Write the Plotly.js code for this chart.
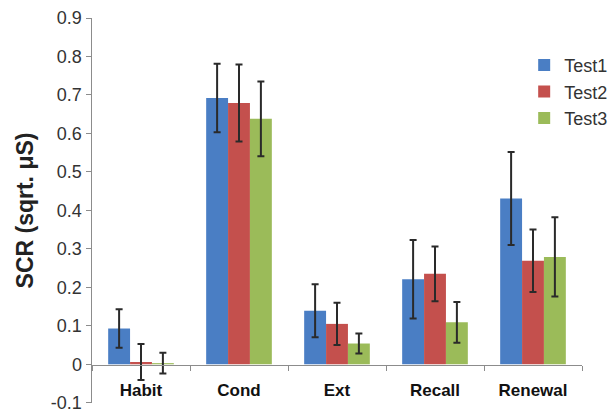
<!DOCTYPE html>
<html>
<head>
<meta charset="utf-8">
<script src="https://cdn.plot.ly/plotly-3.0.1.min.js"></script>
<style>html,body{margin:0;padding:0;background:#fff;}#chart{width:608px;height:414px;}</style>
</head>
<body>
<div id="chart"></div>
<script>
const categories = ["Habit", "Cond", "Ext", "Recall", "Renewal"];
const test1 = [0.093, 0.692, 0.139, 0.221, 0.431];
const test1Err = [0.050, 0.089, 0.069, 0.102, 0.121];
const test2 = [0.006, 0.679, 0.105, 0.235, 0.269];
const test2Err = [0.047, 0.100, 0.055, 0.071, 0.081];
const test3 = [0.003, 0.638, 0.054, 0.109, 0.279];
const test3Err = [0.027, 0.097, 0.026, 0.053, 0.103];
const seriesNames = ["Test1", "Test2", "Test3"];
const yTickVals = [-0.1, 0, 0.1, 0.2, 0.3, 0.4, 0.5, 0.6, 0.7, 0.8, 0.9];
const yTickText = ["-0.1", "0", "0.1", "0.2", "0.3", "0.4", "0.5", "0.6", "0.7", "0.8", "0.9"];

const colors = ["#4A7EC4", "#C4504D", "#9BBB59"];
const vals = [test1, test2, test3];
const errs = [test1Err, test2Err, test3Err];

const traces = seriesNames.map((name, i) => ({
  type: "bar",
  name: name,
  x: categories,
  y: vals[i],
  marker: {color: colors[i], line: {width: 0}},
  error_y: {type: "data", array: errs[i], visible: true, color: "#2a2a2a", thickness: 2, width: 3.5}
}));

const layout = {
  width: 608, height: 414,
  margin: {l: 92, r: 26, t: 18, b: 11, autoexpand: false},
  paper_bgcolor: "#fff", plot_bgcolor: "#fff",
  font: {family: "Liberation Sans, Arial, sans-serif", color: "#333"},
  barmode: "group",
  bargap: 0.33,
  bargroupgap: 0,
  showlegend: true,
  legend: {x: 0.882, y: 0.925, xanchor: "left", yanchor: "top",
           font: {size: 18, color: "#333"}, bgcolor: "rgba(0,0,0,0)",
           itemwidth: 30, tracegroupgap: 0},
  xaxis: {
    type: "category",
    anchor: "free", position: 0.1,
    showline: true, linecolor: "#8c8c8c", linewidth: 1.5,
    ticks: "outside", tickson: "boundaries", ticklen: 5, tickcolor: "#8c8c8c",
    tickfont: {size: 17, color: "#111", family: "Liberation Sans, Arial, sans-serif", weight: "bold"},
    ticklabelstandoff: 10,
    showgrid: false, zeroline: false, fixedrange: true
  },
  yaxis: {
    range: [-0.1006, 0.9],
    tickvals: yTickVals, ticktext: yTickText,
    ticklabeloverflow: "allow",
    showline: true, linecolor: "#8c8c8c", linewidth: 1.5,
    ticks: "outside", ticklen: 5, tickcolor: "#8c8c8c",
    tickfont: {size: 18, color: "#333"},
    showgrid: false, zeroline: false,
    title: {text: "SCR (sqrt. μS)", font: {size: 23, color: "#222", weight: "bold"}, standoff: 11}
  }
};

Plotly.newPlot("chart", traces, layout, {displayModeBar: false, staticPlot: true});
</script>
</body>
</html>
